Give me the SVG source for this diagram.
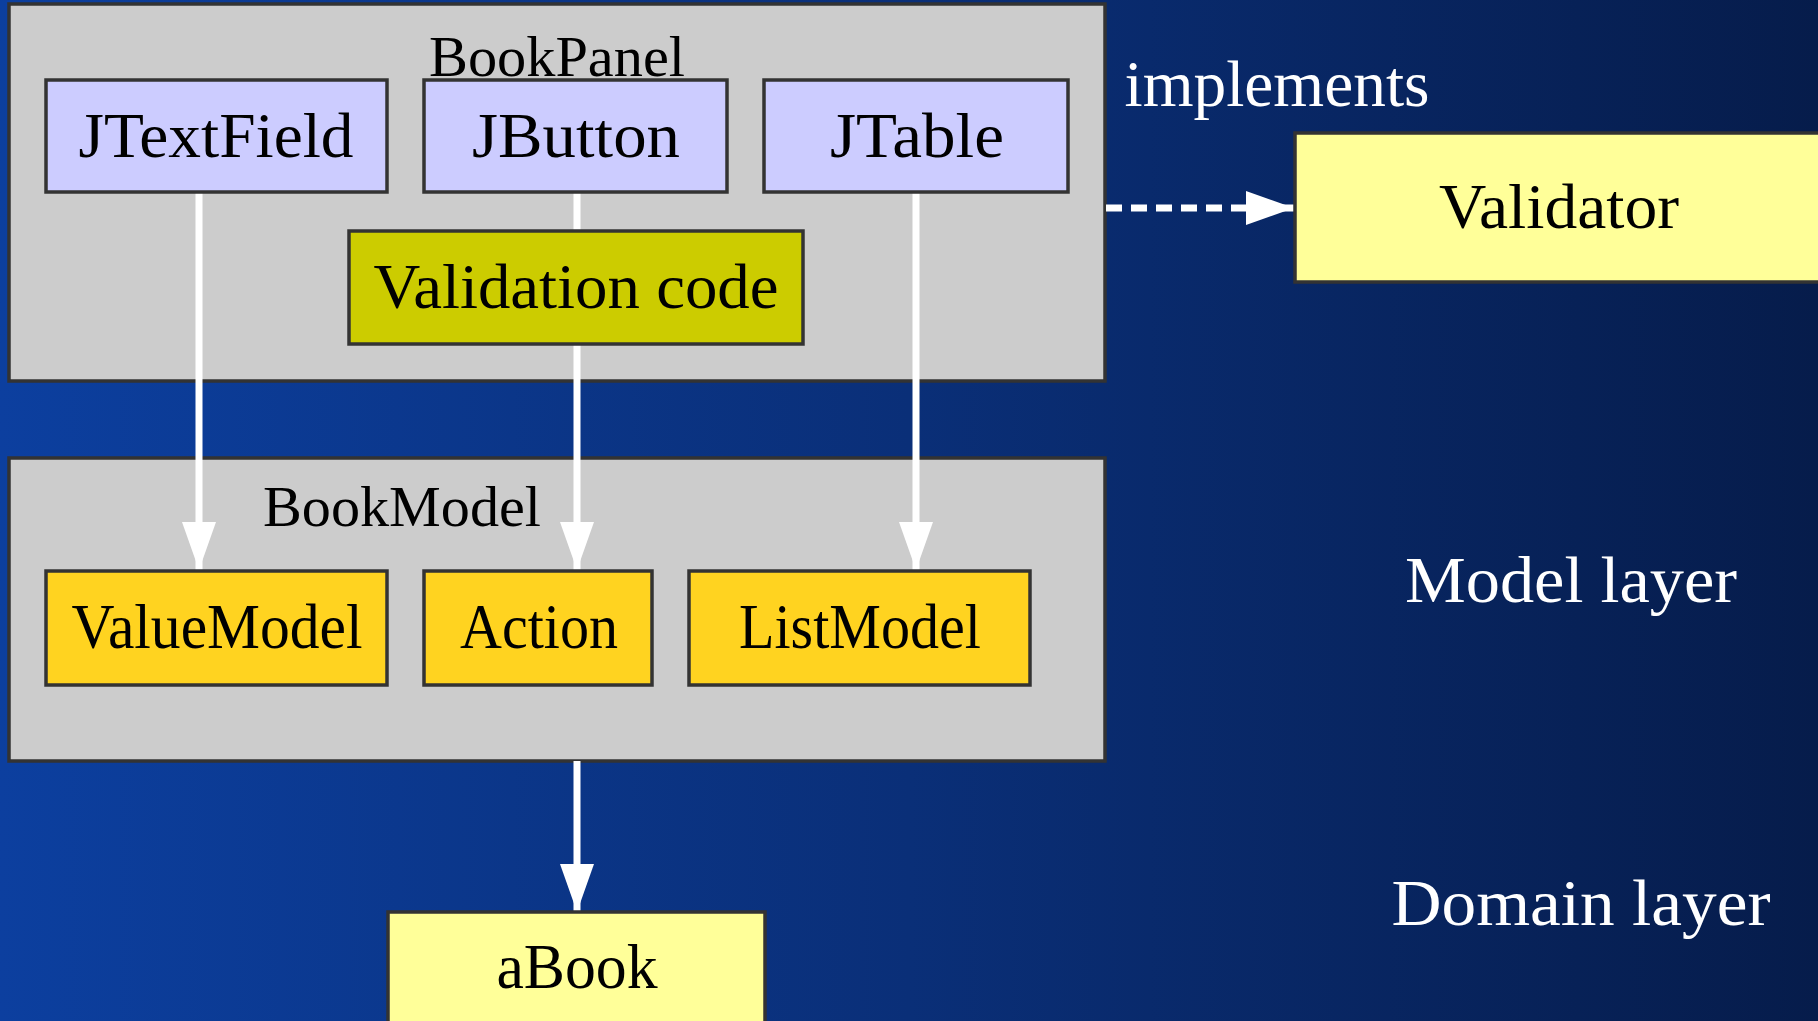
<svg xmlns="http://www.w3.org/2000/svg" width="1818" height="1021" viewBox="0 0 1818 1021">
<defs>
<linearGradient id="bg" x1="0" y1="0" x2="1" y2="0">
<stop offset="0" stop-color="#0c3f9f"/>
<stop offset="0.5" stop-color="#0a2f78"/>
<stop offset="1" stop-color="#061c4b"/>
</linearGradient>
<marker id="ah" markerUnits="userSpaceOnUse" markerWidth="50" markerHeight="34" refX="48" refY="17" orient="auto" viewBox="0 0 50 34">
<path d="M0,0 L48,17 L0,34 Z" fill="#ffffff"/>
</marker>
<style>
.cl{fill:#cccccc;stroke:#333333;stroke-width:3.5}
.nd{stroke:#333333;stroke-width:3.5}
.sw{fill:#ccccff}
.vc{fill:#cccc00}
.md{fill:#ffd320}
.dm{fill:#ffff99}
text{font-family:"Liberation Serif","Times New Roman",serif;text-anchor:middle}
.t{font-size:64px;fill:#000}
.ct{font-size:58px;fill:#000}
.w{font-size:66px;fill:#ffffff}
.e{stroke:#ffffff;stroke-width:7;fill:none;marker-end:url(#ah)}
.d{stroke-dasharray:16 9}
</style>
</defs>
<rect x="0" y="0" width="1818" height="1021" fill="url(#bg)"/>
<g id="cluster_BookPanel">
<rect class="cl" x="9" y="4" width="1096" height="377"/>
<text class="ct" x="557" y="76" textLength="256" lengthAdjust="spacingAndGlyphs">BookPanel</text>
</g>
<g id="cluster_BookModel">
<rect class="cl" x="9" y="458" width="1096" height="303"/>
<text class="ct" x="402" y="526" textLength="278" lengthAdjust="spacingAndGlyphs">BookModel</text>
</g>
<g id="connectors">
<line class="e" x1="199" y1="192" x2="199" y2="570"/>
<line class="e" x1="577" y1="192" x2="577" y2="570"/>
<line class="e" x1="916" y1="192" x2="916" y2="570"/>
<line class="e" x1="577" y1="761" x2="577" y2="912"/>
<line class="e d" x1="1106" y1="208" x2="1294" y2="208"/>
</g>
<g id="JTextField">
<rect class="nd sw" x="46" y="80" width="341" height="112"/>
<text class="t" x="216" y="157" textLength="275" lengthAdjust="spacingAndGlyphs">JTextField</text>
</g>
<g id="JButton">
<rect class="nd sw" x="424" y="80" width="303" height="112"/>
<text class="t" x="576" y="157" textLength="208" lengthAdjust="spacingAndGlyphs">JButton</text>
</g>
<g id="JTable">
<rect class="nd sw" x="764" y="80" width="304" height="112"/>
<text class="t" x="917" y="157" textLength="174" lengthAdjust="spacingAndGlyphs">JTable</text>
</g>
<g id="ValidationCode">
<rect class="nd vc" x="349" y="231" width="454" height="113"/>
<text class="t" x="576" y="308" textLength="405" lengthAdjust="spacingAndGlyphs">Validation code</text>
</g>
<g id="ValueModel">
<rect class="nd md" x="46" y="571" width="341" height="114"/>
<text class="t" x="217" y="648" textLength="291" lengthAdjust="spacingAndGlyphs">ValueModel</text>
</g>
<g id="Action">
<rect class="nd md" x="424" y="571" width="228" height="114"/>
<text class="t" x="539" y="648" textLength="158" lengthAdjust="spacingAndGlyphs">Action</text>
</g>
<g id="ListModel">
<rect class="nd md" x="689" y="571" width="341" height="114"/>
<text class="t" x="860" y="648" textLength="242" lengthAdjust="spacingAndGlyphs">ListModel</text>
</g>
<g id="Validator">
<rect class="nd dm" x="1295" y="133" width="540" height="149"/>
<text class="t" x="1559" y="228" textLength="240" lengthAdjust="spacingAndGlyphs">Validator</text>
</g>
<g id="aBook">
<rect class="nd dm" x="388" y="912" width="377" height="130"/>
<text class="t" x="577" y="988" textLength="161" lengthAdjust="spacingAndGlyphs">aBook</text>
</g>
<g id="labels">
<text class="w" x="1277" y="106" textLength="305" lengthAdjust="spacingAndGlyphs">implements</text>
<text class="w" x="1571" y="602" textLength="332" lengthAdjust="spacingAndGlyphs">Model layer</text>
<text class="w" x="1581" y="925" textLength="379" lengthAdjust="spacingAndGlyphs">Domain layer</text>
</g>
</svg>
